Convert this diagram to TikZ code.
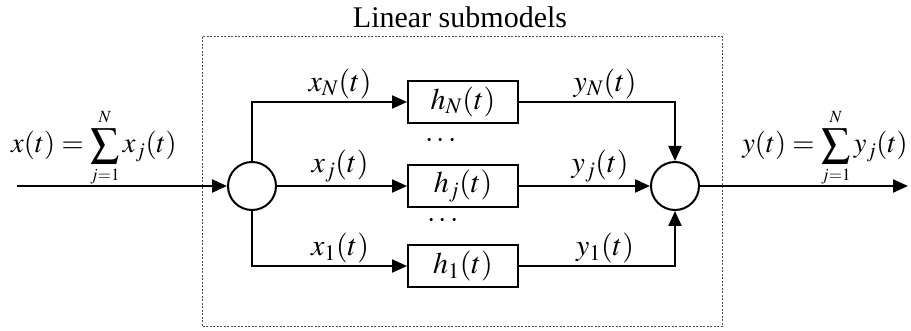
\documentclass[tikz,border=0pt]{standalone}
\usepackage{mathptmx}
\usepackage{fontspec}
\setmainfont{Liberation Serif}
\usetikzlibrary{arrows.meta}
\tikzset{
  ln/.style={line width=2.2pt},
  arr/.style={ln,-{Triangle[length=15pt,width=13pt]}},
  sumc/.style={circle,draw,line width=2pt,minimum size=48pt,inner sep=0pt},
  hbox/.style={rectangle,draw,line width=2pt,minimum width=110pt,minimum height=42pt,inner sep=0pt,font=\fontsize{30}{34}\selectfont},
  lbl/.style={font=\fontsize{30}{34}\selectfont,inner sep=0pt},
  eqn/.style={font=\fontsize{28.5}{34}\selectfont,inner sep=0pt,anchor=base},
  frame/.style={draw=black!70,line width=1pt,dash pattern=on 2pt off 1.5pt}
}
\begin{document}
\begin{tikzpicture}[x=1pt,y=-1pt]
\useasboundingbox (0,0) rectangle (911,331);
\draw[frame] (202,37) rectangle (722,327);
\node[lbl] (title) at (460,17) {Linear submodels};
\node[sumc] (L) at (252,186) {};
\node[sumc] (R) at (675,186) {};
\node[hbox] (hN) at (463,102) {$h_N(t)$};
\node[hbox] (hj) at (463,186) {$h_j(t)$};
\node[hbox] (h1) at (463,266) {$h_1(t)$};
\coordinate (in) at (17,186);
\coordinate (out) at (908,186);
\node[lbl] (dA) at (441,141) {$\cdots$};
\node[lbl] (dB) at (443,221) {$\cdots$};
\draw[arr] (in) -- (L);
\draw[arr] (L.north) |- (hN.west);
\draw[arr] (L) -- (hj.west);
\draw[arr] (L.south) |- (h1.west);
\draw[arr] (hN.east) -| (R.north);
\draw[arr] (hj.east) -- (R);
\draw[arr] (h1.east) -| (R.south);
\draw[arr] (R) -- (out);
\node[lbl] (xN) at (340,84) {$x_N(t)$};
\node[lbl] (xj) at (340,166) {$x_j(t)$};
\node[lbl] (x1) at (340,248) {$x_1(t)$};
\node[lbl] (yN) at (605,84) {$y_N(t)$};
\node[lbl] (yj) at (600,166) {$y_j(t)$};
\node[lbl] (y1) at (605,248) {$y_1(t)$};
\node[eqn] (xeq) at (94,153) {$\displaystyle x(t)=\sum\limits_{\scriptscriptstyle j=1}^{\scriptscriptstyle N} x_j(t)$};
\node[eqn] (yeq) at (825,153) {$\displaystyle y(t)=\sum\limits_{\scriptscriptstyle j=1}^{\scriptscriptstyle N} y_j(t)$};
\end{tikzpicture}
\end{document}
